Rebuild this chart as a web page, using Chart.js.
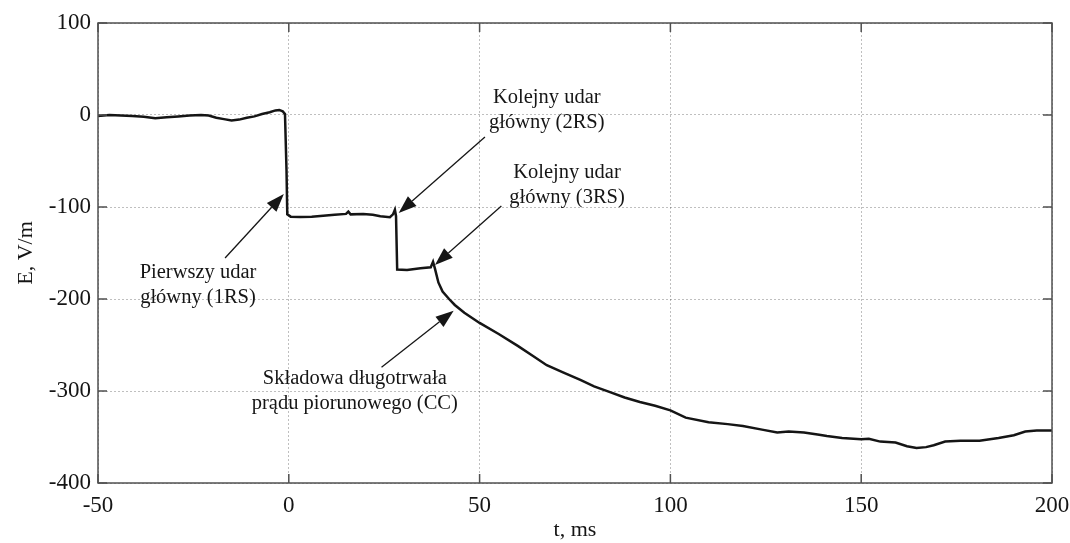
<!DOCTYPE html>
<html lang="pl">
<head>
<meta charset="utf-8">
<title>E(t) — wyładowanie wielokrotne</title>
<script src="https://cdn.jsdelivr.net/npm/chart.js@4.4.1/dist/chart.umd.min.js"></script>
<style>
  html, body { margin: 0; padding: 0; background: #fff; }
  #wrap { width: 1070px; height: 543px; position: relative; }
</style>
</head>
<body>
<div id="wrap"><canvas id="efield"></canvas></div>
<script>
// --- Recorded field change: time (ms) and E (V/m) ---
const timeMs = [
  -50, -47, -44, -41, -38, -35, -32, -29, -26, -23, -21, -19, -17, -15, -13, -11, -9, -7, -5, -3.5,
  -2.5, -1.6, -1.0, -0.6, -0.4, 0.5, 3, 6, 9, 12, 15, 15.6, 16.2, 19.5, 22, 24, 26.5, 27.3, 27.8, 28.1,
  28.4, 31, 34.5, 37.2, 37.8, 38.3, 39.2, 40.3, 42, 43.5, 46, 50, 55, 60, 64, 67.6, 72, 76.4, 80, 84,
  88, 92, 96, 100, 104, 110, 115, 119, 124, 128, 131, 135, 139, 141, 145, 150, 152, 155, 159, 162,
  164.5, 167, 169, 172, 176, 181, 186, 190, 193, 196, 200
];
const fieldVm = [
  -1, 0, -0.5, -1, -2, -3.5, -2.5, -1.5, -0.5, 0, -0.5, -3, -4.5, -6, -5, -3, -1.5, 1, 3, 5,
  5.5, 4, 1, -60, -108, -110.5, -111, -110.5, -109.5, -108.5, -107.5, -105, -108, -107.5, -108.5, -110, -111, -108, -103, -110,
  -168, -168.5, -166.5, -165.5, -159.5, -167, -182, -192, -200, -206.5, -215, -226, -238, -251, -262, -272, -280, -288, -295, -301,
  -307, -312, -316, -321, -329, -334, -336, -338, -342, -345, -344, -345, -347.5, -349, -351, -352.5, -352, -355, -356, -360,
  -362, -361, -359, -355, -354, -354, -351, -348, -344, -343, -343
];

const xTicks = [-50, 0, 50, 100, 150, 200];
const yTicks = [-400, -300, -200, -100, 0, 100];

// --- Annotation text blocks (centre given in t / E units) ---
const noteLabels = [
  { t: -23.8, e: -185.3, lines: ['Pierwszy udar', 'główny (1RS)'] },
  { t: 67.6, e: 4.9, lines: ['Kolejny udar', 'główny (2RS)'] },
  { t: 72.9, e: -76, lines: ['Kolejny udar', 'główny (3RS)'] },
  { t: 17.3, e: -300, lines: ['Składowa długotrwała', 'prądu piorunowego (CC)'] },
];

// --- Arrows: tail -> tip, in t / E units ---
const noteArrows = [
  { from: [-16.7, -155.4], to: [-1.3, -85.9] },
  { from: [51.4, -23.9], to: [28.8, -106.5] },
  { from: [55.7, -98.9], to: [38.3, -163] },
  { from: [24.3, -274.2], to: [43.2, -212.7] },
];

const SERIF = "'Liberation Serif', 'DejaVu Serif', serif";
const INK = '#151515';
const FRAME = '#505050';
const GRID = 'rgba(0,0,0,0.25)';

// Box frame with inward ticks, arrows and the text notes
const framePlugin = {
  id: 'frameAndNotes',
  afterDatasetsDraw(chart) {
    const { ctx, chartArea: a, scales: { x, y } } = chart;
    const tickLen = 9;
    ctx.save();

    // frame
    ctx.strokeStyle = FRAME;
    ctx.lineWidth = 1.5;
    ctx.strokeRect(a.left, a.top, a.right - a.left, a.bottom - a.top);

    // inward ticks on all four sides
    ctx.beginPath();
    xTicks.forEach(v => {
      const px = x.getPixelForValue(v);
      ctx.moveTo(px, a.bottom); ctx.lineTo(px, a.bottom - tickLen);
      ctx.moveTo(px, a.top); ctx.lineTo(px, a.top + tickLen);
    });
    yTicks.forEach(v => {
      const py = y.getPixelForValue(v);
      ctx.moveTo(a.left, py); ctx.lineTo(a.left + tickLen, py);
      ctx.moveTo(a.right, py); ctx.lineTo(a.right - tickLen, py);
    });
    ctx.stroke();

    // arrows
    ctx.strokeStyle = INK;
    ctx.fillStyle = INK;
    ctx.lineWidth = 1.3;
    noteArrows.forEach(ar => {
      const x0 = x.getPixelForValue(ar.from[0]), y0 = y.getPixelForValue(ar.from[1]);
      const x1 = x.getPixelForValue(ar.to[0]), y1 = y.getPixelForValue(ar.to[1]);
      const ang = Math.atan2(y1 - y0, x1 - x0);
      const headLen = 18, headHalf = 6.5;
      const bx = x1 - headLen * Math.cos(ang), by = y1 - headLen * Math.sin(ang);
      ctx.beginPath();
      ctx.moveTo(x0, y0); ctx.lineTo(bx, by);
      ctx.stroke();
      ctx.beginPath();
      ctx.moveTo(x1, y1);
      ctx.lineTo(bx + headHalf * Math.sin(ang), by - headHalf * Math.cos(ang));
      ctx.lineTo(bx - headHalf * Math.sin(ang), by + headHalf * Math.cos(ang));
      ctx.closePath();
      ctx.fill();
    });

    // text notes
    ctx.font = '20.5px ' + SERIF;
    ctx.textAlign = 'center';
    ctx.textBaseline = 'middle';
    const lineGap = 25;
    noteLabels.forEach(n => {
      const cx = x.getPixelForValue(n.t), cy = y.getPixelForValue(n.e);
      n.lines.forEach((txt, i) => {
        ctx.fillText(txt, cx, cy + (i - (n.lines.length - 1) / 2) * lineGap);
      });
    });

    ctx.restore();
  }
};

const ctx = document.getElementById('efield').getContext('2d');
new Chart(ctx, {
  type: 'line',
  data: {
    datasets: [{
      label: 'E',
      data: timeMs.map((t, i) => ({ x: t, y: fieldVm[i] })),
      borderColor: INK,
      borderWidth: 2.5,
      pointRadius: 0,
      tension: 0,
      fill: false,
    }]
  },
  options: {
    responsive: true,
    maintainAspectRatio: false,
    animation: false,
    layout: { padding: { top: 23, right: 18, left: 0, bottom: 0 } },
    plugins: { legend: { display: false }, tooltip: { enabled: false } },
    scales: {
      x: {
        type: 'linear',
        min: -50, max: 200,
        afterBuildTicks: s => { s.ticks = xTicks.map(v => ({ value: v })); },
        // fixed band height; end labels may overhang the plot edges
        afterFit: s => { s.height = 60; s.paddingLeft = 0; s.paddingRight = 0; },
        grid: { color: GRID, lineWidth: 1, drawTicks: false },
        border: { display: false, dash: [2, 2] },
        ticks: {
          color: INK, padding: 9, maxRotation: 0, autoSkip: false,
          font: { family: SERIF, size: 23 },
          callback: v => String(v),
        },
        title: {
          display: true, text: 't, ms', color: INK,
          font: { family: SERIF, size: 22 },
          padding: { top: 0, bottom: 0 },
        }
      },
      y: {
        type: 'linear',
        min: -400, max: 100,
        afterBuildTicks: s => { s.ticks = yTicks.map(v => ({ value: v })); },
        afterFit: s => { s.width = 98; s.paddingTop = 0; s.paddingBottom = 0; },
        grid: { color: GRID, lineWidth: 1, drawTicks: false },
        border: { display: false, dash: [2, 2] },
        ticks: {
          color: INK, padding: 7, autoSkip: false,
          font: { family: SERIF, size: 23 },
          callback: v => String(v),
        },
        title: {
          display: true, text: 'E, V/m', color: INK,
          font: { family: SERIF, size: 22 },
          padding: { top: 13, bottom: 0 },
        }
      }
    }
  },
  plugins: [framePlugin]
});
</script>
</body>
</html>
